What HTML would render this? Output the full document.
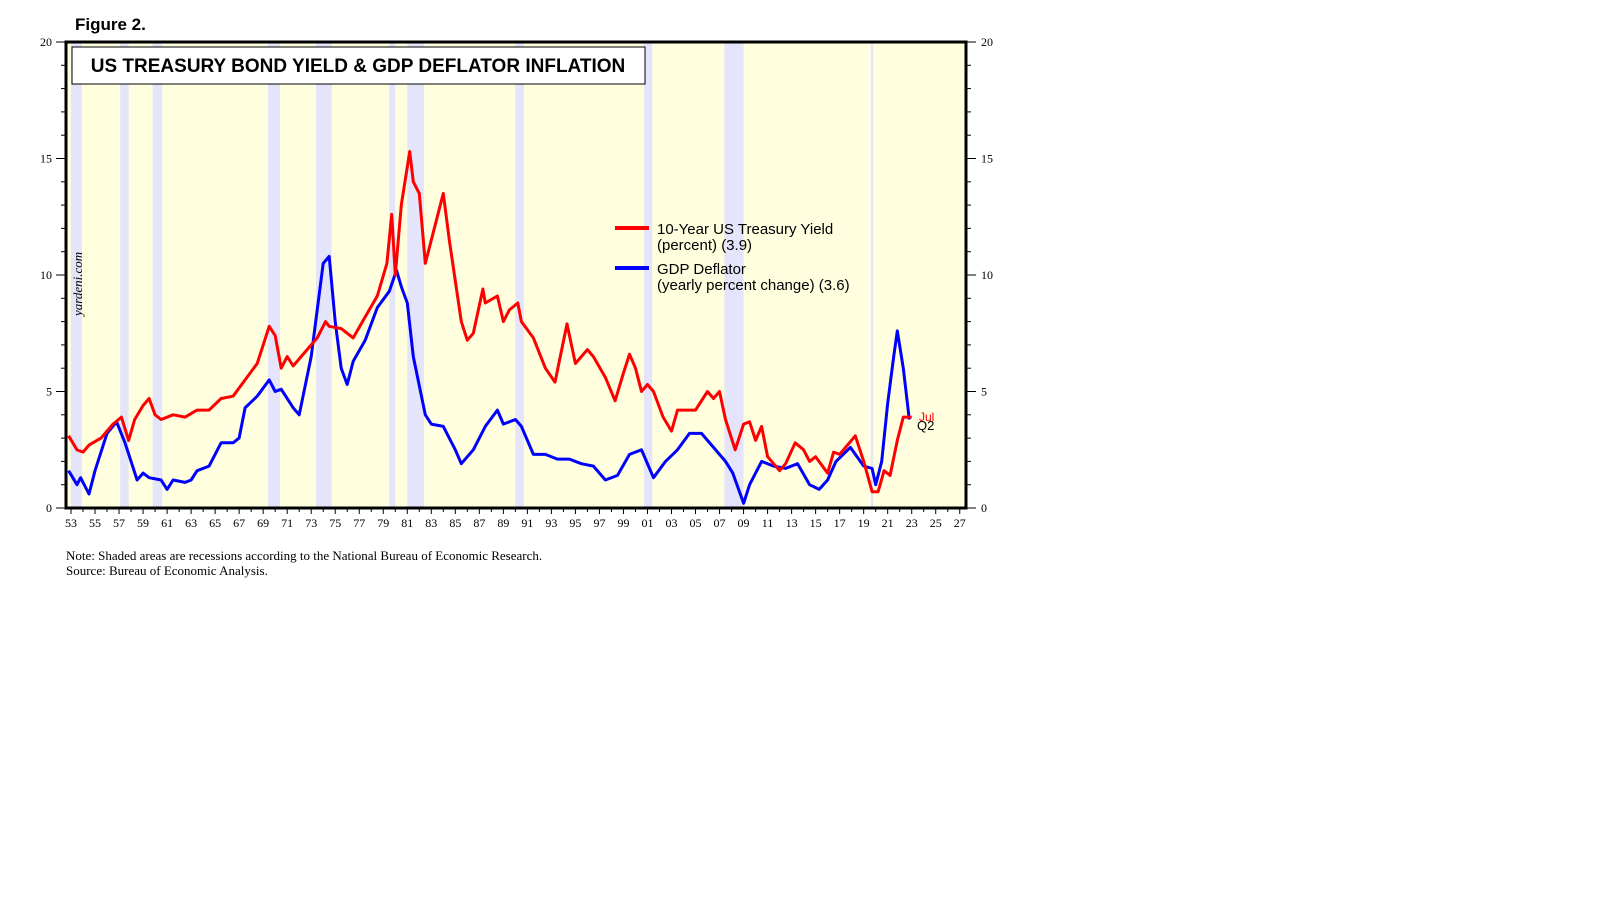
<!DOCTYPE html>
<html><head><meta charset="utf-8"><style>
body{margin:0;background:#fff;width:1610px;height:910px;overflow:hidden}
svg{position:absolute;left:0;top:0}
</style></head><body>
<svg id="c" width="1610" height="910" font-family="'Liberation Serif',serif"></svg>
<script>
const recessions=[[1953.5,1954.4],[1957.6,1958.3],[1960.3,1961.1],[1969.9,1970.9],[1973.9,1975.2],[1980.0,1980.5],[1981.5,1982.9],[1990.5,1991.2],[2001.2,2001.9],[2007.9,2009.5],[2020.1,2020.3]];
const yieldYears=[1953.3,1954,1954.5,1955,1956,1957,1957.7,1958.3,1958.8,1959.5,1960,1960.5,1961,1962,1963,1964,1965,1966,1967,1968,1969,1970,1970.5,1971,1971.5,1972,1973,1974,1974.7,1975,1976,1977,1978,1979,1979.8,1980.2,1980.5,1981,1981.7,1982,1982.5,1983,1983.5,1984.5,1985,1986,1986.5,1987,1987.8,1988,1989,1989.5,1990,1990.7,1991,1992,1993,1993.8,1994.8,1995.5,1996.5,1997,1998,1998.8,1999.5,2000,2000.5,2001,2001.5,2002,2002.8,2003.5,2004,2004.8,2005.5,2006.5,2007,2007.5,2008,2008.8,2009.5,2010,2010.5,2011,2011.5,2012.5,2013,2013.8,2014.5,2015,2015.5,2016.5,2017,2017.5,2018,2018.8,2019.5,2020.2,2020.7,2021.2,2021.7,2022.3,2022.8,2023.5];
const yieldVals=[3.1,2.5,2.4,2.7,3.0,3.6,3.9,2.9,3.8,4.4,4.7,4.0,3.8,4.0,3.9,4.2,4.2,4.7,4.8,5.5,6.2,7.8,7.4,6.0,6.5,6.1,6.7,7.3,8.0,7.8,7.7,7.3,8.2,9.1,10.5,12.6,10.0,13.0,15.3,14.0,13.5,10.5,11.5,13.5,11.5,8.0,7.2,7.5,9.4,8.8,9.1,8.0,8.5,8.8,8.0,7.3,6.0,5.4,7.9,6.2,6.8,6.5,5.6,4.6,5.8,6.6,6.0,5.0,5.3,5.0,3.9,3.3,4.2,4.2,4.2,5.0,4.7,5.0,3.8,2.5,3.6,3.7,2.9,3.5,2.2,1.6,1.9,2.8,2.5,2.0,2.2,1.5,2.4,2.3,2.6,3.1,2.0,0.7,0.7,1.6,1.4,2.9,3.9,3.9];
const gdpYears=[1953.3,1954,1954.3,1955,1955.5,1956.5,1957.3,1958,1959,1959.5,1960,1961,1961.5,1962,1963,1963.5,1964,1965,1966,1967,1967.5,1968,1969,1970,1970.5,1971,1972,1972.5,1973.5,1974.5,1975,1975.5,1976,1976.5,1977,1978,1979,1980,1980.6,1981,1981.5,1982,1983,1983.5,1984.5,1985.5,1986,1987,1988,1989,1989.5,1990.5,1991,1992,1993,1994,1995,1996,1997,1998,1999,2000,2001,2002,2003,2004,2005,2006,2007,2008,2008.6,2009.5,2010,2011,2012,2013,2014,2015,2015.8,2016.5,2017.2,2018,2018.4,2019.5,2020.2,2020.5,2021,2021.5,2022,2022.3,2022.8,2023.3];
const gdpVals=[1.6,1.0,1.3,0.6,1.6,3.2,3.7,2.8,1.2,1.5,1.3,1.2,0.8,1.2,1.1,1.2,1.6,1.8,2.8,2.8,3.0,4.3,4.8,5.5,5.0,5.1,4.3,4.0,6.5,10.5,10.8,8.0,6.0,5.3,6.3,7.2,8.6,9.3,10.2,9.5,8.8,6.5,4.0,3.6,3.5,2.5,1.9,2.5,3.5,4.2,3.6,3.8,3.5,2.3,2.3,2.1,2.1,1.9,1.8,1.2,1.4,2.3,2.5,1.3,2.0,2.5,3.2,3.2,2.6,2.0,1.5,0.2,1.0,2.0,1.8,1.7,1.9,1.0,0.8,1.2,2.0,2.4,2.6,1.8,1.7,1.0,2.0,4.5,6.5,7.6,6.0,3.8];
const yTicks=[0,5,10,15,20];
const xLabels=["53","55","57","59","61","63","65","67","69","71","73","75","77","79","81","83","85","87","89","91","93","95","97","99","01","03","05","07","09","11","13","15","17","19","21","23","25","27"];

const L=66,R=966,T=42,B=508;
const X=y=>71+(y-1953.5)*12.01;
const Y=v=>B-v*(B-T)/20;
const svg=document.getElementById('c');
const NS='http://www.w3.org/2000/svg';
function mk(tag,attrs,parent){const e=document.createElementNS(NS,tag);for(const k in attrs)e.setAttribute(k,attrs[k]);(parent||svg).appendChild(e);return e;}

let bg=mk('rect',{x:L,y:T,width:R-L,height:B-T,fill:'#ffffe0'});


recessions.forEach(r=>{
  const e=mk('rect',{x:X(r[0]),y:T,width:X(r[1])-X(r[0]),height:B-T,fill:'#e4e4fa'});
  
  
});
// title box
let tb=mk('rect',{x:72,y:47,width:573,height:37,fill:'#fff',stroke:'#000','stroke-width':1});


let tt=mk('text',{x:358,y:72,'text-anchor':'middle','font-family':"'Liberation Sans',sans-serif",'font-weight':'bold','font-size':19});
tt.textContent='US TREASURY BOND YIELD & GDP DEFLATOR INFLATION';


let fg=mk('text',{x:75,y:30,'font-family':"'Liberation Sans',sans-serif",'font-weight':'bold','font-size':17});
fg.textContent='Figure 2.';


let yd=mk('text',{x:0,y:0,'font-style':'italic','font-size':13,transform:'translate(82,316) rotate(-90)'});
yd.textContent='yardeni.com';



function line(ys,vs,color,name){
  const d=ys.map((y,i)=>(i?'L':'M')+X(y).toFixed(1)+','+Y(vs[i]).toFixed(1)).join('');
  const p=mk('path',{d:d,fill:'none',stroke:color,'stroke-width':3,'stroke-linejoin':'round'});
  
  
}
line(gdpYears,gdpVals,'#0000ff','gdp-deflator-line');
line(yieldYears,yieldVals,'#ff0000','treasury-yield-line');

// frame
let fr=mk('rect',{x:L,y:T,width:R-L,height:B-T,fill:'none',stroke:'#000','stroke-width':3});


// y ticks
for(let v=0;v<=20;v++){
  const len=v%5===0?10:5;
  mk('line',{x1:L-len,x2:L,y1:Y(v),y2:Y(v),stroke:'#000','stroke-width':1});
  mk('line',{x1:R,x2:R+len,y1:Y(v),y2:Y(v),stroke:'#000','stroke-width':1});
}
yTicks.forEach(v=>{
  let a=mk('text',{x:52,y:Y(v)+4,'text-anchor':'end','font-size':12});a.textContent=v;
  
  
  let b=mk('text',{x:981,y:Y(v)+4,'font-size':12});b.textContent=v;
  
  
});
// x ticks
for(let yr=1953;yr<=2027;yr++){
  const x=X(yr+0.5);
  if(x>R)break;
  mk('line',{x1:x,x2:x,y1:B,y2:B+((yr-1953)%2===0?6:4),stroke:'#000','stroke-width':1});
}
xLabels.forEach((l,i)=>{
  let t=mk('text',{x:X(1953.5+i*2),y:527,'text-anchor':'middle','font-size':12});t.textContent=l;
  
  
});
// legend
let lg=mk('g',{'font-family':"'Liberation Sans',sans-serif",'font-size':15});


mk('line',{x1:615,x2:649,y1:228,y2:228,stroke:'#ff0000','stroke-width':4},lg);
mk('line',{x1:615,x2:649,y1:268,y2:268,stroke:'#0000ff','stroke-width':4},lg);
[['10-Year US Treasury Yield',234],['(percent) (3.9)',250],['GDP Deflator',274],['(yearly percent change) (3.6)',290]].forEach(a=>{
  let t=mk('text',{x:657,y:a[1]},lg);t.textContent=a[0];
});
let j=mk('text',{x:919,y:421,'font-family':"'Liberation Sans',sans-serif",'font-size':12,fill:'#ff0000'});j.textContent='Jul';


let q=mk('text',{x:917,y:430,'font-family':"'Liberation Sans',sans-serif",'font-size':13,fill:'#000'});q.textContent='Q2';


let n=mk('text',{x:66,y:560,'font-size':13});n.textContent='Note: Shaded areas are recessions according to the National Bureau of Economic Research.';


let s=mk('text',{x:66,y:575,'font-size':13});s.textContent='Source: Bureau of Economic Analysis.';


</script>
</body></html>
